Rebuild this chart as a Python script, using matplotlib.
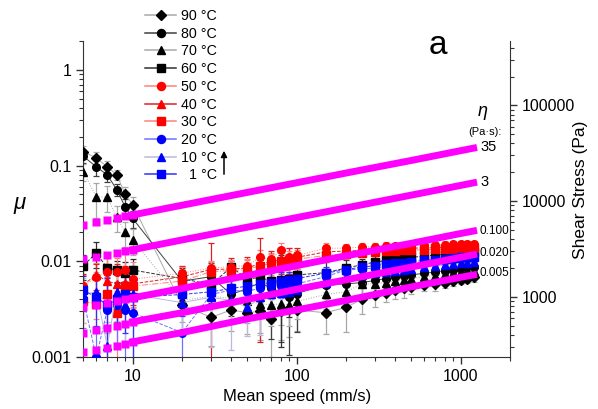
import matplotlib
matplotlib.use('Agg')
import matplotlib.pyplot as plt
from matplotlib import ticker
from matplotlib.lines import Line2D

plt.rcParams['font.family'] = ['Liberation Sans', 'DejaVu Sans']

# ---- measured friction data (speed in mm/s) ----
speed = [5, 6, 7, 8, 9, 10, 20, 30, 40, 50, 60, 70, 80, 90, 100,
         150, 200, 250, 300, 350, 400, 450, 500, 600, 700, 800, 900, 1000, 1100, 1200]

mu_90 = [0.14, 0.12, 0.097, 0.08, 0.05, 0.039, 0.0035, 0.0026, 0.0031, 0.0029, 0.0030, 0.0025, 0.0030, 0.0032, 0.0031,
         0.0029, 0.0033, 0.0040, 0.0044, 0.0047, 0.0050, 0.0052, 0.0054, 0.0057, 0.0058, 0.0060, 0.0062, 0.0064, 0.0066, 0.0068]
mu_80 = [0.125, 0.097, 0.08, 0.056, 0.037, 0.028, 0.0062, 0.0069, 0.0045, 0.0052, 0.0060, 0.0052, 0.0048, 0.0042, 0.0046,
         0.0057, 0.0058, 0.0060, 0.0063, 0.0066, 0.0068, 0.0070, 0.0072, 0.0075, 0.0077, 0.0080, 0.0082, 0.0084, 0.0086, 0.0088]
mu_70 = [0.086, 0.047, 0.047, 0.029, 0.020, 0.0167, 0.0039, 0.0043, 0.0041, 0.0038, 0.0036, 0.0035, 0.0036, 0.0035, 0.0038,
         0.0045, 0.0048, 0.0058, 0.0058, 0.0060, 0.0062, 0.0064, 0.0066, 0.0069, 0.0071, 0.0073, 0.0075, 0.0077, 0.0079, 0.0080]
mu_60 = [0.0090, 0.0122, 0.0085, 0.0081, 0.0075, 0.0081, 0.0066, 0.0057, 0.0087, 0.0065, 0.0068, 0.0062, 0.0064, 0.0066, 0.0072,
         0.0076, 0.0085, 0.0092, 0.0098, 0.0102, 0.0105, 0.0107, 0.0110, 0.0113, 0.0116, 0.0118, 0.0120, 0.0122, 0.0124, 0.0126]
mu_50 = [0.0055, 0.0068, 0.0078, 0.0078, 0.0081, 0.0065, 0.0075, 0.0085, 0.0088, 0.0090, 0.0110, 0.0105, 0.0130, 0.0110, 0.0115,
         0.0137, 0.0137, 0.0141, 0.0142, 0.0144, 0.0145, 0.0146, 0.0147, 0.0148, 0.0148, 0.0149, 0.0150, 0.0150, 0.0151, 0.0152]
mu_40 = [0.0057, 0.0072, 0.0062, 0.0058, 0.0060, 0.0058, 0.0069, 0.0082, 0.0083, 0.0085, 0.0095, 0.0098, 0.0105, 0.0105, 0.0110,
         0.0125, 0.0128, 0.0130, 0.0132, 0.0134, 0.0135, 0.0136, 0.0137, 0.0138, 0.0139, 0.0140, 0.0140, 0.0141, 0.0142, 0.0143]
mu_30 = [0.0038, 0.0036, 0.0045, 0.0029, 0.0055, 0.0055, 0.0062, 0.0078, 0.0080, 0.0082, 0.0090, 0.0095, 0.0100, 0.0102, 0.0105,
         0.0115, 0.0120, 0.0122, 0.0125, 0.0127, 0.0128, 0.0130, 0.0131, 0.0132, 0.0133, 0.0134, 0.0135, 0.0136, 0.0137, 0.0138]
mu_20 = [0.0040, 0.0010, 0.0031, 0.0035, 0.0031, 0.0029, 0.0018, 0.0045, 0.0050, 0.0048, 0.0053, 0.0055, 0.0055, 0.0056, 0.0058,
         0.0069, 0.0081, 0.0083, 0.0085, 0.0088, 0.0090, 0.0092, 0.0094, 0.0096, 0.0098, 0.0100, 0.0102, 0.0104, 0.0106, 0.0108]
mu_10 = [0.0045, 0.0048, 0.0013, 0.0048, 0.0035, 0.0045, 0.0037, 0.0042, 0.0039, 0.0033, 0.0042, 0.0045, 0.0047, 0.0048, 0.0050,
         0.0060, 0.0068, 0.0072, 0.0075, 0.0078, 0.0080, 0.0082, 0.0084, 0.0087, 0.0089, 0.0091, 0.0093, 0.0095, 0.0097, 0.0099]
mu_1 = [0.0050, 0.0042, 0.0035, 0.0040, 0.0045, 0.0042, 0.0045, 0.0048, 0.0052, 0.0055, 0.0058, 0.0060, 0.0062, 0.0064, 0.0066,
        0.0075, 0.0082, 0.0087, 0.0090, 0.0093, 0.0095, 0.0097, 0.0099, 0.0102, 0.0104, 0.0106, 0.0108, 0.0110, 0.0111, 0.0112]

# relative error bars
err_90 = [0.15, 0.15, 0.15, 0.12, 0.2, 0.2, 0.5, 0.5, 0.4, 0.4, 0.5, 0.6, 0.5, 0.5, 0.4,
          0.4, 0.45, 0.3, 0.25, 0.2, 0.2, 0.2, 0.15, 0.15, 0.15, 0.12, 0.12, 0.1, 0.1, 0.1]
err_80 = [0.15, 0.2, 0.15, 0.15, 0.2, 0.2, 0.3, 0.4, 0.4, 0.5, 0.5, 0.7, 0.7, 0.75, 0.6,
          0.4, 0.35, 0.3, 0.25, 0.2, 0.2, 0.15, 0.15, 0.15, 0.12, 0.12, 0.1, 0.1, 0.1, 0.1]
err_70 = [0.2, 0.4, 0.3, 0.3, 0.3, 0.3, 0.4, 0.4, 0.3, 0.4, 0.5, 0.4, 0.4, 0.4, 0.35,
          0.3, 0.3, 0.25, 0.2, 0.2, 0.2, 0.15, 0.15, 0.15, 0.12, 0.12, 0.1, 0.1, 0.1, 0.1]
err_60 = [0.3, 0.3, 0.3, 0.25, 0.3, 0.3, 0.3, 0.35, 0.15, 0.4, 0.5, 0.6, 0.8, 0.6, 0.5,
          0.3, 0.2, 0.15, 0.15, 0.12, 0.12, 0.1, 0.1, 0.1, 0.1, 0.08, 0.08, 0.08, 0.08, 0.08]
err_50 = [0.3, 0.4, 0.4, 0.4, 0.5, 0.5, 0.2, 0.15, 0.15, 0.15, 0.2, 0.15, 0.2, 0.25, 0.15,
          0.12, 0.1, 0.1, 0.1, 0.1, 0.08, 0.08, 0.08, 0.08, 0.08, 0.08, 0.08, 0.08, 0.08, 0.08]
err_40 = [0.3, 0.3, 0.5, 0.6, 0.5, 0.4, 0.3, 0.9, 0.3, 0.3, 0.85, 0.3, 0.3, 0.3, 0.25,
          0.15, 0.12, 0.1, 0.1, 0.1, 0.1, 0.08, 0.08, 0.08, 0.08, 0.08, 0.08, 0.08, 0.08, 0.08]
err_30 = [0.4, 0.3, 0.6, 0.7, 0.4, 0.4, 0.4, 0.3, 0.3, 0.3, 0.3, 0.25, 0.25, 0.25, 0.2,
          0.15, 0.12, 0.1, 0.1, 0.1, 0.1, 0.08, 0.08, 0.08, 0.08, 0.08, 0.08, 0.08, 0.08, 0.08]
err_20 = [0.5, 1.0, 1.2, 0.6, 1.0, 1.2, 1.5, 0.4, 0.4, 0.3, 0.3, 0.25, 0.25, 0.25, 0.2,
          0.15, 0.12, 0.1, 0.1, 0.1, 0.1, 0.08, 0.08, 0.08, 0.08, 0.08, 0.08, 0.08, 0.08, 0.08]
err_10 = [0.5, 0.6, 0.8, 0.5, 0.6, 0.5, 0.5, 0.7, 0.7, 0.5, 0.6, 0.5, 0.4, 0.4, 0.3,
          0.2, 0.15, 0.12, 0.1, 0.1, 0.1, 0.08, 0.08, 0.08, 0.08, 0.08, 0.08, 0.08, 0.08, 0.08]
err_1 = [0.4, 0.5, 0.9, 0.5, 0.6, 1.1, 0.4, 0.3, 0.3, 0.3, 0.25, 0.25, 0.25, 0.2, 0.2,
         0.15, 0.12, 0.1, 0.1, 0.1, 0.1, 0.08, 0.08, 0.08, 0.08, 0.08, 0.08, 0.08, 0.08, 0.08]

labels = ['90 °C', '80 °C', '70 °C', '60 °C', '50 °C', '40 °C', '30 °C', '20 °C', '10 °C', '  1 °C']
mu_all = [mu_90, mu_80, mu_70, mu_60, mu_50, mu_40, mu_30, mu_20, mu_10, mu_1]
err_all = [err_90, err_80, err_70, err_60, err_50, err_40, err_30, err_20, err_10, err_1]
markers = ['D', 'o', '^', 's', 'o', '^', 's', 'o', '^', 's']
mcolors = ['black'] * 4 + ['#ff0000'] * 3 + ['#0000ff'] * 3
lcolors = ['#a8a8a8', '#404040', '#a8a8a8', '#303030', '#ff8080', '#e02020', '#ff8080', '#7070ff', '#b8b8e0', '#3030ff']
lstyles = ['-', '-', ':', '--', ':', '--', '-.', '--', '-', '--']

# ---- constant viscosity reference lines ----
eta_speed = [5, 6, 7, 8, 9, 10, 20, 50, 100, 200, 500, 1000, 1200]
mu_eta35 = [0.0242, 0.0257, 0.0271, 0.0283, 0.0294, 0.0305, 0.0385, 0.0524, 0.0661, 0.0835, 0.113, 0.143, 0.152]
mu_eta3 = [0.0105, 0.0111, 0.0117, 0.0122, 0.0127, 0.0132, 0.0167, 0.0227, 0.0286, 0.0361, 0.0491, 0.062, 0.066]
mu_eta01 = [0.0033, 0.0035, 0.0037, 0.0038, 0.0040, 0.00415, 0.0052, 0.0071, 0.0090, 0.0114, 0.0154, 0.0195, 0.0207]
mu_eta002 = [0.0018, 0.0019, 0.0020, 0.0021, 0.0022, 0.00233, 0.0029, 0.0040, 0.0051, 0.0064, 0.0087, 0.0110, 0.0117]
mu_eta0005 = [0.00113, 0.00118, 0.00125, 0.0013, 0.00138, 0.00144, 0.0018, 0.0025, 0.0031, 0.0039, 0.0054, 0.0068, 0.0072]
eta_lines = [mu_eta35, mu_eta3, mu_eta01, mu_eta002, mu_eta0005]

W, H = 598, 409
fig = plt.figure(figsize=(W / 100, H / 100), dpi=100)
ax = fig.add_axes([83.3 / W, 1 - 357 / H, (510 - 83.3) / W, (357 - 41) / H])

handles = []
for mu, er, lab, mk, mc, lc, ls in zip(mu_all, err_all, labels, markers, mcolors, lcolors, lstyles):
    yerr = [m * e for m, e in zip(mu, er)]
    ms = 5.5 if mk != 'D' else 5
    ax.errorbar(speed, mu, yerr=yerr, fmt='none', ecolor=lc, elinewidth=0.9, capsize=2.5, capthick=0.9, zorder=2)
    ax.plot(speed, mu, linestyle=ls, color=lc, lw=0.7, marker=mk, mfc=mc, mec=mc, ms=ms, zorder=3)
    # legend shows solid lines
    handles.append(Line2D([], [], linestyle='-', color=lc, lw=1.1, marker=mk, mfc=mc, mec=mc, ms=ms + 0.3))

for vals in eta_lines:
    ax.plot(eta_speed[:6], vals[:6], 's', color='#ff00ff', ms=5.5, mec='none', zorder=6)
    ax.plot(eta_speed[5:], vals[5:], '-', color='#ff00ff', lw=5, solid_capstyle='projecting', zorder=6)

ax.set_xscale('log')
ax.set_yscale('log')
ax.set_xlim(5, 2000)
ax.set_ylim(0.001, 2)
ax.spines['top'].set_visible(False)
ax.spines['right'].set_visible(False)
for s in ['left', 'bottom']:
    ax.spines[s].set_color('#333333')
ax.tick_params(which='major', direction='out', length=5, width=1, labelsize=11.5, colors='#333333', labelcolor='black')
ax.tick_params(which='minor', direction='out', length=3, width=0.8, colors='#333333')
ax.xaxis.set_major_formatter(ticker.FuncFormatter(lambda v, p: f'{v:g}'))
ax.yaxis.set_major_formatter(ticker.FuncFormatter(lambda v, p: f'{v:g}'))
ax.xaxis.set_minor_formatter(ticker.NullFormatter())
ax.yaxis.set_minor_formatter(ticker.NullFormatter())
ax.set_xlabel('Mean speed (mm/s)', fontsize=12, labelpad=4)

ax2 = ax.twinx()
ax2.set_yscale('log')
ax2.set_ylim(235, 470000)
ax2.spines['top'].set_visible(False)
ax2.spines['left'].set_visible(False)
ax2.spines['bottom'].set_visible(False)
ax2.spines['right'].set_color('#333333')
ax2.tick_params(which='major', direction='out', length=5, width=1, labelsize=11.5, colors='#333333', labelcolor='black')
ax2.tick_params(which='minor', direction='out', length=3, width=0.8, colors='#333333')
ax2.yaxis.set_major_formatter(ticker.FuncFormatter(lambda v, p: f'{int(round(v))}'))
ax2.yaxis.set_minor_formatter(ticker.NullFormatter())

fig.text(20 / W, 1 - 203 / H, 'μ', fontsize=16, style='italic', ha='center', va='center')
fig.text(580 / W, 1 - 190 / H, 'Shear Stress (Pa)', fontsize=12.5, rotation=90, ha='center', va='center')
fig.text(438 / W, 1 - 45 / H, 'a', fontsize=24, ha='center', va='center')
fig.text(483 / W, 1 - 112 / H, 'η', fontsize=13, style='italic', ha='center', va='center')
fig.text(485 / W, 1 - 132 / H, '(Pa·s):', fontsize=8, ha='center', va='center')
fig.text(480 / W, 1 - 147 / H, '35', fontsize=10.5, ha='left', va='center')
fig.text(480 / W, 1 - 182 / H, '3', fontsize=10.5, ha='left', va='center')
fig.text(479 / W, 1 - 231 / H, '0.100', fontsize=8.5, ha='left', va='center')
fig.text(479 / W, 1 - 253 / H, '0.020', fontsize=8.5, ha='left', va='center')
fig.text(479 / W, 1 - 273 / H, '0.005', fontsize=8.5, ha='left', va='center')

fig.legend(handles, labels, loc='upper left', bbox_to_anchor=(145 / W, 1 - 9 / H), frameon=False,
           fontsize=10.3, handlelength=2.2, handletextpad=0.3, labelspacing=0.26, borderpad=0, borderaxespad=0)

ax.annotate('', xy=(224 / W, 1 - 148 / H), xytext=(224 / W, 1 - 177 / H), xycoords='figure fraction',
            textcoords='figure fraction', arrowprops=dict(arrowstyle='-|>', color='black', lw=1.1, mutation_scale=9))

fig.savefig('out.png', dpi=100)
